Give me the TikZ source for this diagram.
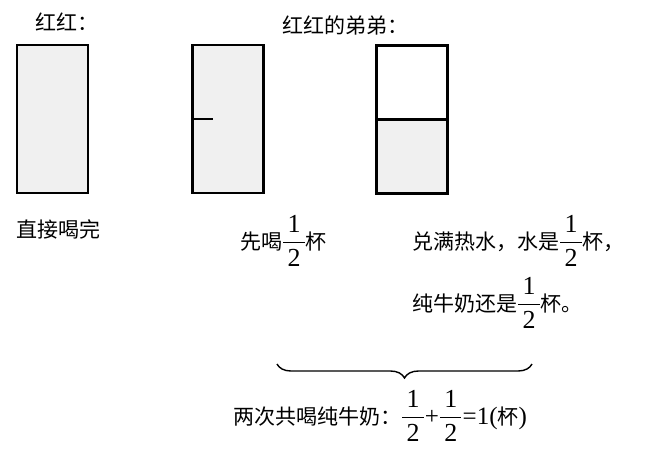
\documentclass[tikz,border=0pt]{standalone}
\usepackage{amsmath}
\usepackage{fontspec}
\setmainfont{Liberation Serif}
\newfontfamily\cjk{Noto Sans CJK SC}
\usetikzlibrary{decorations.pathreplacing}
\tikzset{
  cup/.style={draw,line width=2.4pt,fill=gray!12,minimum width=71pt,minimum height=148pt,inner sep=0pt},
  txt/.style={anchor=base west,inner sep=0pt,font=\cjk\fontsize{21}{25}\selectfont}
}
\newcommand{\frc}[2]{{\rmfamily\fontsize{26}{28}\selectfont$\dfrac{\,\text{#1}\,}{\,\text{#2}\,}$}}
\newcommand{\rmbig}[1]{{\rmfamily\fontsize{25}{28}\selectfont#1}}
\begin{document}
\begin{tikzpicture}[x=1pt,y=-1pt]
    \useasboundingbox (0,0) rectangle (666,456);
    \node[txt] (hh) at (35,30) {红红：};
    \node[txt] (dd) at (282,33) {红红的弟弟：};
    \node[cup] (c1) at (52.5,119) {};
    \node[cup] (c2) at (228,119) {};
    \node[cup,fill=white,path picture={\fill[gray!12]
        (path picture bounding box.west) rectangle (path picture bounding box.south east);}]
        (c3) at (412,119.5) {};
    \draw[line width=2.4pt] (c2.west) -- ++(22,0);
    \draw[line width=2.4pt] (c3.west) -- (c3.east);
    \node[txt] (t1) at (16,237) {直接喝完};
    \node[txt] (t2) at (240,249) {先喝\frc{1}{2}杯};
    \node[txt] (t3) at (412,249) {兑满热水，水是\frc{1}{2}杯，};
    \node[txt] (t4) at (412,311) {纯牛奶还是\frc{1}{2}杯。};
    \coordinate (bl) at (277,364);
    \coordinate (br) at (532,364);
    \draw[line width=1.4pt,decorate,decoration={brace,mirror,amplitude=14pt}] (bl) -- (br);
    \node[txt] (sum) at (233,424) {两次共喝纯牛奶：\frc{1}{2}\rmbig{+}\frc{1}{2}\rmbig{=1(}杯\rmbig{)}};
\end{tikzpicture}
\end{document}
